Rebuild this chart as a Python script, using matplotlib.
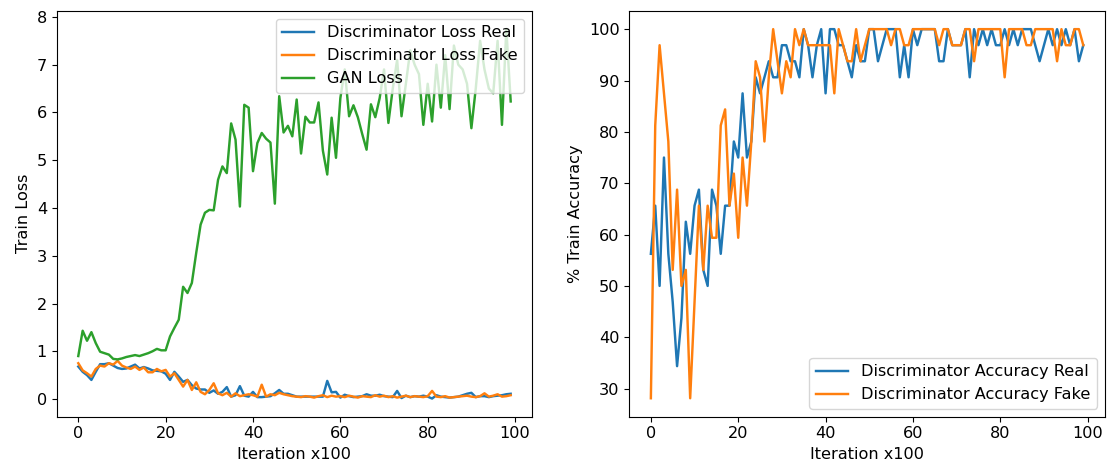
import numpy as np
import matplotlib
matplotlib.use('Agg')
import matplotlib.pyplot as plt

# ── Datos (100 puntos, iteración x100) ─────────────────────────────────────
iters = np.arange(100)

d_loss_real = [
    0.68, 0.57, 0.50, 0.40, 0.57, 0.73, 0.73, 0.75, 0.70, 0.65,
    0.63, 0.64, 0.68, 0.72, 0.64, 0.67, 0.64, 0.60, 0.59, 0.58,
    0.53, 0.40, 0.57, 0.47, 0.36, 0.40, 0.29, 0.22, 0.20, 0.20,
    0.13, 0.18, 0.11, 0.15, 0.25, 0.05, 0.08, 0.27, 0.07, 0.05,
    0.15, 0.04, 0.04, 0.05, 0.06, 0.12, 0.19, 0.11, 0.11, 0.08,
    0.05, 0.05, 0.05, 0.05, 0.05, 0.05, 0.05, 0.38, 0.14, 0.15,
    0.03, 0.09, 0.06, 0.04, 0.05, 0.06, 0.10, 0.07, 0.07, 0.09,
    0.06, 0.05, 0.04, 0.17, 0.02, 0.07, 0.04, 0.06, 0.05, 0.07,
    0.05, 0.01, 0.08, 0.05, 0.04, 0.03, 0.04, 0.05, 0.08, 0.11,
    0.13, 0.04, 0.06, 0.06, 0.04, 0.06, 0.07, 0.08, 0.10, 0.11,
]

d_loss_fake = [
    0.75, 0.60, 0.54, 0.47, 0.63, 0.70, 0.68, 0.75, 0.72, 0.80,
    0.70, 0.66, 0.63, 0.68, 0.61, 0.66, 0.56, 0.56, 0.63, 0.58,
    0.61, 0.47, 0.54, 0.40, 0.26, 0.40, 0.19, 0.35, 0.15, 0.10,
    0.19, 0.33, 0.12, 0.08, 0.13, 0.05, 0.12, 0.06, 0.08, 0.10,
    0.08, 0.05, 0.30, 0.05, 0.10, 0.08, 0.13, 0.10, 0.08, 0.06,
    0.05, 0.04, 0.06, 0.05, 0.03, 0.06, 0.08, 0.04, 0.07, 0.05,
    0.06, 0.04, 0.07, 0.05, 0.03, 0.06, 0.05, 0.04, 0.08, 0.05,
    0.07, 0.04, 0.06, 0.03, 0.05, 0.07, 0.04, 0.06, 0.05, 0.04,
    0.06, 0.17, 0.05, 0.04, 0.06, 0.03, 0.04, 0.05, 0.06, 0.07,
    0.05, 0.04, 0.06, 0.12, 0.05, 0.07, 0.10, 0.05, 0.06, 0.08,
]

gan_loss = [
    0.90, 1.43, 1.22, 1.40, 1.17, 0.99, 0.96, 0.93, 0.84, 0.83,
    0.85, 0.88, 0.90, 0.92, 0.90, 0.93, 0.96, 1.00, 1.05, 1.02,
    1.02, 1.31, 1.49, 1.66, 2.35, 2.22, 2.43, 3.06, 3.65, 3.90,
    3.96, 3.95, 4.59, 4.87, 4.73, 5.77, 5.43, 4.03, 6.16, 6.10,
    4.77, 5.36, 5.57, 5.45, 5.37, 4.09, 6.34, 5.58, 5.72, 5.50,
    6.27, 5.14, 5.91, 5.79, 5.79, 6.21, 5.20, 4.70, 5.89, 5.05,
    6.30, 6.90, 5.92, 6.15, 5.90, 5.55, 5.22, 6.17, 5.90, 6.30,
    6.90, 5.78, 6.50, 7.10, 5.92, 6.60, 7.30, 7.00, 6.80, 5.74,
    6.60, 5.81, 7.00, 6.10, 7.20, 6.07, 7.40, 7.00, 6.90, 6.60,
    5.67, 6.50, 7.50, 6.90, 6.50, 6.40, 7.50, 5.74, 7.75, 6.23,
]

d_acc_real = [
    56.25, 65.625, 50, 75, 56.25, 46.875, 34.375, 43.75, 62.5, 56.25,
    65.625, 68.75, 53.125, 50, 68.75, 65.625, 56.25, 65.625, 65.625, 78.125,
    75, 87.5, 75, 78.125, 90.625, 87.5, 90.625, 93.75, 90.625, 90.625,
    96.875, 96.875, 93.75, 93.75, 90.625, 100, 96.875, 90.625, 96.875, 100,
    87.5, 100, 100, 96.875, 96.875, 93.75, 90.625, 96.875, 93.75, 93.75,
    100, 100, 93.75, 96.875, 100, 100, 100, 90.625, 96.875, 90.625,
    100, 96.875, 100, 100, 100, 100, 93.75, 93.75, 100, 96.875,
    96.875, 96.875, 100, 90.625, 100, 96.875, 100, 96.875, 100, 96.875,
    96.875, 100, 96.875, 100, 96.875, 100, 100, 100, 96.875, 93.75,
    96.875, 100, 96.875, 100, 96.875, 100, 96.875, 100, 93.75, 96.875,
]

d_acc_fake = [
    28.125, 81.25, 96.875, 87.5, 78.125, 53.125, 68.75, 50, 53.125, 28.125,
    46.875, 65.625, 53.125, 65.625, 59.375, 59.375, 81.25, 84.375, 65.625, 71.875,
    59.375, 75, 65.625, 78.125, 93.75, 90.625, 78.125, 90.625, 100, 93.75,
    87.5, 93.75, 90.625, 100, 96.875, 100, 96.875, 96.875, 96.875, 96.875,
    96.875, 96.875, 87.5, 100, 96.875, 93.75, 93.75, 100, 93.75, 96.875,
    100, 100, 100, 100, 100, 96.875, 100, 100, 96.875, 96.875,
    100, 100, 100, 100, 100, 100, 96.875, 100, 100, 96.875,
    96.875, 96.875, 100, 100, 93.75, 100, 100, 100, 100, 100,
    100, 90.625, 100, 100, 100, 100, 96.875, 96.875, 100, 100,
    100, 100, 100, 93.75, 100, 96.875, 96.875, 100, 100, 96.875,
]

# ── Figura ─────────────────────────────────────────────────────────────────
plt.rcParams['font.size'] = 11.6
plt.rcParams['lines.linewidth'] = 1.75

fig = plt.figure(figsize=(11.09, 4.69), dpi=100)
ax1 = fig.add_axes([0.0511, 0.1115, 0.4289, 0.8657])
ax2 = fig.add_axes([0.5674, 0.1115, 0.4289, 0.8657])

ax1.plot(iters, d_loss_real, label='Discriminator Loss Real')
ax1.plot(iters, d_loss_fake, label='Discriminator Loss Fake')
ax1.plot(iters, gan_loss, label='GAN Loss')
ax1.set_ylim(-0.37, 8.13)
ax1.set_xlabel('Iteration x100')
ax1.set_ylabel('Train Loss')
ax1.legend(loc='upper right')

ax2.plot(iters, d_acc_real, label='Discriminator Accuracy Real')
ax2.plot(iters, d_acc_fake, label='Discriminator Accuracy Fake')
ax2.set_xlabel('Iteration x100')
ax2.set_ylabel('% Train Accuracy')
ax2.legend(loc='lower right')

plt.savefig('out.png', dpi=100)
